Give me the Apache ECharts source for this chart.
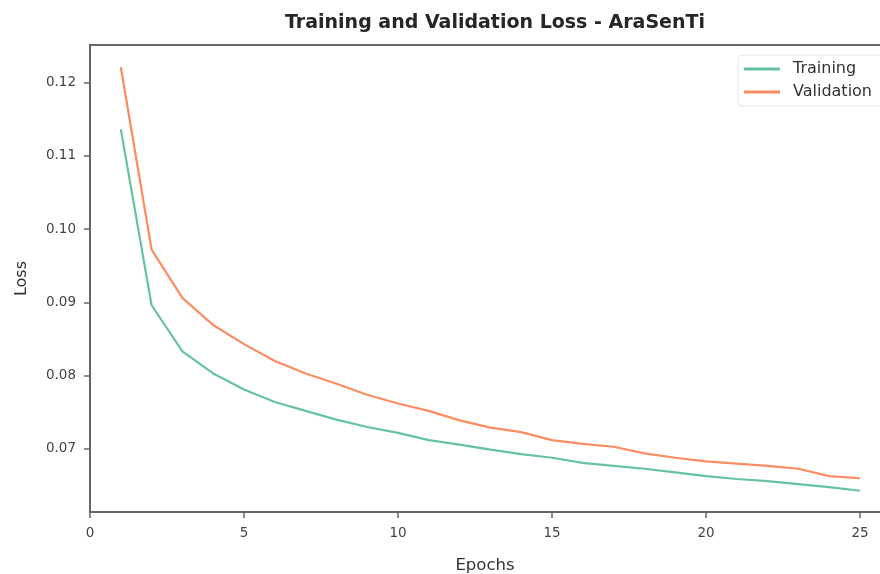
<!DOCTYPE html>
<html>
<head>
<meta charset="utf-8">
<script src="https://cdn.jsdelivr.net/npm/echarts@6/dist/echarts.min.js"></script>
<style>
  html, body { margin: 0; padding: 0; background: #fff; }
  #chart { width: 880px; height: 574px; }
</style>
</head>
<body>
<div id="chart"></div>
<script>
// data
const epochs = [1, 2, 3, 4, 5, 6, 7, 8, 9, 10, 11, 12, 13, 14, 15, 16, 17, 18, 19, 20, 21, 22, 23, 24, 25];
const trainingLoss = [0.1136, 0.0896, 0.0833, 0.0803, 0.0781, 0.0764, 0.0752, 0.0740, 0.0730, 0.0722,
  0.0712, 0.0706, 0.0699, 0.0693, 0.0688, 0.0681, 0.0677, 0.0673, 0.0668, 0.0663,
  0.0659, 0.0656, 0.0652, 0.0648, 0.0643];
const validationLoss = [0.1221, 0.0972, 0.0906, 0.0869, 0.0843, 0.0820, 0.0803, 0.0789, 0.0774, 0.0762,
  0.0752, 0.0739, 0.0729, 0.0723, 0.0712, 0.0707, 0.0703, 0.0694, 0.0688, 0.0683,
  0.0680, 0.0677, 0.0673, 0.0663, 0.0660];
const xTicks = [0, 5, 10, 15, 20, 25];
const yTicks = [0.07, 0.08, 0.09, 0.10, 0.11, 0.12];

const font = "DejaVu Sans";
const axisColor = "#666";

const chart = echarts.init(document.getElementById("chart"));

const toPairs = (ys) => epochs.map((e, i) => [e, ys[i]]);

chart.setOption({
  animation: false,
  title: {
    text: "Training and Validation Loss - AraSenTi",
    left: 490,
    textAlign: "center",
    top: 9,
    textStyle: { fontFamily: font, fontSize: 19, fontWeight: "bold", color: "#262626" }
  },
  legend: {
    orient: "vertical",
    left: 738,
    top: 55,
    padding: [6, 12, 6, 6],
    itemGap: 7,
    itemWidth: 36,
    itemHeight: 3,
    icon: "rect",
    borderColor: "#e8e8e8",
    borderWidth: 1,
    borderRadius: 4,
    textStyle: { fontFamily: font, fontSize: 16, color: "#333", padding: [0, 0, 0, 8] },
    data: ["Training", "Validation"]
  },
  grid: { left: 90, right: 0, top: 45, bottom: 62, outerBoundsMode: "none" },
  xAxis: [
    {
      type: "value",
      min: 0,
      max: 25.65,
      name: "Epochs",
      nameLocation: "middle",
      nameGap: 45,
      nameTextStyle: { fontFamily: font, fontSize: 16.5, color: "#333" },
      axisLine: { lineStyle: { color: axisColor, width: 2 } },
      axisTick: { show: true, length: 6, customValues: xTicks, lineStyle: { color: axisColor, width: 1.5 } },
      axisLabel: { customValues: xTicks, margin: 14, fontFamily: font, fontSize: 13.5, color: "#444" },
      splitLine: { show: false }
    },
    {
      type: "value",
      position: "top",
      min: 0,
      max: 25.65,
      axisLine: { show: true, lineStyle: { color: axisColor, width: 2 } },
      axisTick: { show: false },
      axisLabel: { show: false },
      splitLine: { show: false }
    }
  ],
  yAxis: {
    type: "value",
    min: 0.0614,
    max: 0.1251,
    name: "Loss",
    nameLocation: "middle",
    nameGap: 60,
    nameTextStyle: { fontFamily: font, fontSize: 16, color: "#333" },
    axisLine: { show: true, lineStyle: { color: axisColor, width: 2 } },
    axisTick: { show: true, length: 6, customValues: yTicks, lineStyle: { color: axisColor, width: 1.5 } },
    axisLabel: {
      customValues: yTicks,
      margin: 14,
      fontFamily: font,
      fontSize: 13.5,
      color: "#444",
      formatter: (v) => v.toFixed(2)
    },
    splitLine: { show: false }
  },
  series: [
    {
      name: "Training",
      type: "line",
      data: toPairs(trainingLoss),
      showSymbol: false,
      symbol: "none",
      itemStyle: { color: "#66c2a5" },
      lineStyle: { color: "#66c2a5", width: 2.2 }
    },
    {
      name: "Validation",
      type: "line",
      data: toPairs(validationLoss),
      showSymbol: false,
      symbol: "none",
      itemStyle: { color: "#fc8d62" },
      lineStyle: { color: "#fc8d62", width: 2.2 }
    }
  ]
});
</script>
</body>
</html>
